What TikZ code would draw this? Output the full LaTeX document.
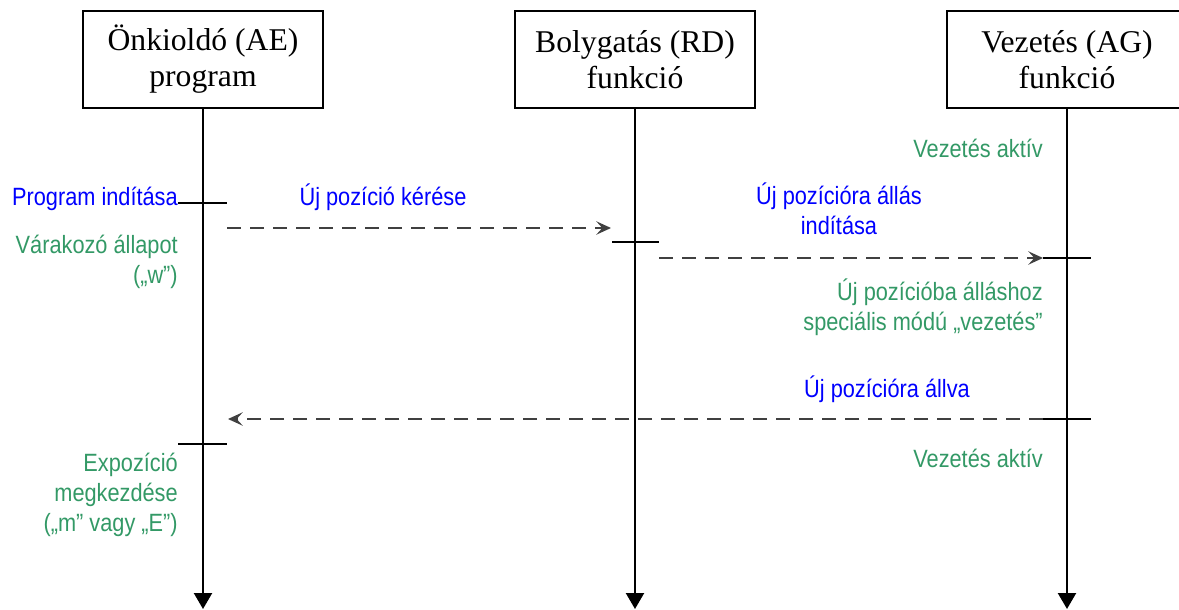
\documentclass[tikz,border=0pt]{standalone}
\usepackage{fontspec}
\setmainfont{Liberation Serif}
\newfontfamily\labfont[FakeStretch=0.87]{Liberation Sans}
\usetikzlibrary{arrows.meta}
\definecolor{lblue}{RGB}{0,0,255}
\definecolor{lgreen}{RGB}{51,153,102}
\definecolor{dgray}{RGB}{64,64,64}
\begin{document}
\begin{tikzpicture}[x=0.75pt,y=-0.75pt,
  actor/.style={draw, line width=1.3pt, minimum width=180pt, minimum height=72.75pt,
    align=center, inner sep=0pt, font=\fontsize{23.75pt}{27pt}\selectfont},
  life/.style={line width=1.7pt, -{Triangle[length=12pt,width=13.5pt]}},
  tick/.style={line width=1.7pt},
  msg/.style={dgray, line width=1.9pt, dash pattern=on 10.5pt off 6.75pt,
    -{Stealth[length=11pt,width=10pt,inset=4.5pt]}},
  lab/.style={inner sep=0pt, font=\labfont\fontsize{18.75pt}{22.5pt}\selectfont},
  ev/.style={lab, text=lgreen, align=right, anchor=base east},
  call/.style={lab, text=lblue, align=center, anchor=base}]
\useasboundingbox (0,0) rectangle (1179,610);

% actors
\node[actor] (ae) at (203,59.5) {Önkioldó (AE)\\program};
\node[actor] (rd) at (635,59.5) {Bolygatás (RD)\\funkció};
\node[actor] (ag) at (1067,59.5) {Vezetés (AG)\\funkció};

% lifeline ends
\coordinate (aeEnd) at (203,609);
\coordinate (rdEnd) at (635,609);
\coordinate (agEnd) at (1067,609);
\draw[life] (ae.south) -- (aeEnd);
\draw[life] (rd.south) -- (rdEnd);
\draw[life] (ag.south) -- (agEnd);

% ticks
\coordinate (t1a) at (178,203); \coordinate (t1b) at (227,203);
\coordinate (t2a) at (612,242); \coordinate (t2b) at (659,242);
\coordinate (t3a) at (1043,258); \coordinate (t3b) at (1091,258);
\coordinate (t4a) at (1043,419); \coordinate (t4b) at (1091,419);
\coordinate (t5a) at (178,444); \coordinate (t5b) at (227,444);
\draw[tick] (t1a) -- (t1b);
\draw[tick] (t2a) -- (t2b);
\draw[tick] (t3a) -- (t3b);
\draw[tick] (t4a) -- (t4b);
\draw[tick] (t5a) -- (t5b);

% messages
\coordinate (m1s) at (227,228); \coordinate (m1e) at (611,228);
\coordinate (m3e) at (228,419);
\draw[msg] (m1s) -- (m1e);
\draw[msg] (t2b |- t3a) -- (t3a);
\draw[msg] (t4a) -- (m3e);

% labels
\node[lab, text=lblue, anchor=base east] (l1) at (178,205) {Program indítása};
\node[call] (l2) at (383,205) {Új pozíció kérése};
\node[ev] (l3) at (1043,157) {Vezetés aktív};
\node[call] (l4) at (839,234) {Új pozícióra állás\\indítása};
\node[ev] (l5) at (178,283) {Várakozó állapot\\(„w”)};
\node[ev] (l6) at (1043,330) {Új pozícióba álláshoz\\speciális módú „vezetés”};
\node[call] (l7) at (887,397) {Új pozícióra állva};
\node[ev] (l8) at (1043,467) {Vezetés aktív};
\node[ev] (l9) at (178,531) {Expozíció\\megkezdése\\(„m” vagy „E”)};
\end{tikzpicture}
\end{document}
